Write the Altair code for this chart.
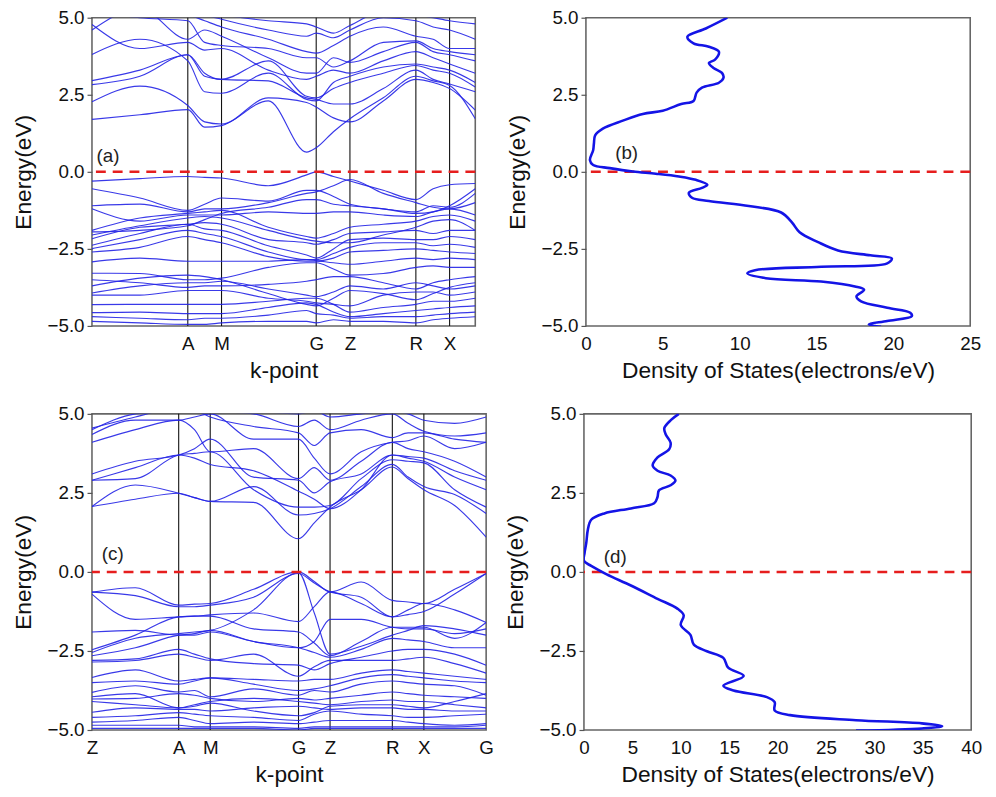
import altair as alt
import pandas as pd

FONT = "Liberation Sans"
BAND_COLOR = "#2424e6"
DOS_COLOR = "#1414e6"
FERMI_COLOR = "#e61e1e"

# ---------------- (a) band structure ----------------
kpath_a_pos = [0.0, 0.25, 0.338, 0.585, 0.673, 0.845, 0.933, 1.0]
kpath_a_lab = ["", "A", "M", "G", "Z", "R", "X", ""]
ksample_a = [0, 0.125, 0.25, 0.294, 0.338, 0.46, 0.56, 0.585, 0.63, 0.673, 0.76, 0.845, 0.89, 0.933, 1.0]
bands_a = [
    # conduction bands
    [1.70, 1.85, 2.02, 1.45, 1.50, 2.30, 0.64, 0.78, 1.30, 1.72, 2.40, 3.10, 2.95, 2.80, 1.72],
    [2.27, 2.78, 2.15, 1.62, 1.55, 2.40, 2.25, 2.10, 1.75, 1.62, 2.30, 3.00, 2.90, 2.70, 2.00],
    [2.83, 3.10, 3.80, 3.10, 3.00, 2.95, 2.40, 2.35, 2.20, 2.20, 2.70, 3.30, 3.00, 2.85, 2.60],
    [2.96, 3.30, 3.80, 3.20, 3.00, 3.60, 2.45, 2.40, 2.70, 2.90, 3.20, 3.45, 3.30, 3.20, 2.75],
    [3.81, 4.30, 3.60, 2.60, 2.55, 3.20, 2.35, 2.30, 2.90, 3.10, 3.40, 3.50, 3.40, 3.30, 2.90],
    [4.78, 4.00, 4.20, 3.95, 4.00, 3.30, 3.00, 3.10, 3.30, 3.20, 3.60, 3.90, 3.70, 3.50, 3.20],
    [4.60, 5.30, 4.30, 4.60, 4.40, 3.70, 3.20, 3.20, 3.70, 3.55, 3.90, 4.20, 3.90, 3.80, 3.60],
    [5.20, 5.00, 4.90, 4.20, 4.10, 4.00, 3.70, 3.70, 3.40, 3.60, 4.20, 4.25, 4.00, 3.90, 3.80],
    [5.50, 5.30, 5.10, 4.90, 4.70, 4.30, 3.90, 3.85, 4.10, 4.40, 4.70, 4.40, 4.30, 4.00, 4.00],
    [5.60, 5.50, 5.30, 5.10, 4.95, 4.60, 4.40, 4.50, 4.35, 4.60, 5.00, 4.90, 4.70, 4.60, 4.30],
    [5.80, 5.70, 5.50, 5.20, 5.10, 4.90, 4.80, 4.70, 4.50, 4.75, 5.20, 5.10, 5.00, 4.90, 4.80],
    # valence bands
    [-0.30, -0.22, -0.15, -0.18, -0.20, -0.45, -0.10, 0.00, -0.15, -0.30, -0.60, -0.90, -0.55, -0.42, -0.38],
    [-0.55, -0.85, -1.25, -1.05, -0.85, -0.95, -0.60, -0.60, -0.80, -1.05, -1.20, -1.30, -1.10, -1.15, -0.70],
    [-1.10, -1.05, -1.30, -1.20, -1.20, -1.00, -0.70, -0.65, -0.45, -0.25, -0.70, -1.00, -1.15, -1.20, -1.00],
    [-1.20, -1.60, -1.40, -1.40, -1.40, -1.30, -1.35, -1.35, -1.30, -1.30, -1.40, -1.45, -1.30, -1.20, -1.40],
    [-1.90, -1.50, -1.35, -1.30, -1.25, -1.80, -2.10, -2.15, -2.00, -1.80, -1.70, -1.60, -1.45, -1.40, -1.60],
    [-2.17, -1.80, -1.70, -1.65, -1.70, -2.20, -2.30, -2.35, -2.20, -2.00, -1.95, -1.90, -2.00, -1.90, -1.90],
    [-2.38, -2.00, -1.70, -1.85, -1.90, -2.40, -2.70, -2.80, -2.50, -2.20, -2.15, -2.20, -2.20, -2.10, -2.20],
    [-2.49, -2.20, -1.90, -2.00, -2.10, -2.60, -2.85, -2.85, -2.65, -2.45, -2.30, -2.30, -2.40, -2.35, -2.45],
    [-2.60, -2.45, -2.10, -2.20, -2.30, -2.75, -2.90, -2.90, -2.80, -2.60, -2.55, -2.50, -2.55, -2.60, -2.65],
    [-2.92, -2.80, -2.90, -2.90, -2.90, -2.90, -2.85, -2.88, -2.95, -3.00, -2.90, -2.80, -2.85, -2.80, -2.85],
    [-3.29, -3.30, -3.50, -3.50, -3.45, -3.10, -2.95, -2.95, -3.15, -3.35, -3.30, -3.10, -3.05, -3.10, -3.10],
    [-3.50, -3.60, -3.75, -3.70, -3.70, -3.65, -3.55, -3.50, -3.40, -3.40, -3.60, -3.80, -3.60, -3.50, -3.40],
    [-3.93, -3.70, -3.60, -3.60, -3.55, -3.80, -4.00, -4.05, -3.90, -3.70, -3.80, -3.60, -3.70, -3.80, -3.70],
    [-4.00, -4.00, -3.85, -3.85, -3.85, -4.10, -4.20, -4.25, -4.30, -4.35, -4.00, -3.90, -3.90, -4.00, -3.90],
    [-4.31, -4.30, -4.30, -4.30, -4.30, -4.20, -4.10, -4.10, -4.30, -4.55, -4.40, -4.30, -4.20, -4.20, -4.10],
    [-4.57, -4.55, -4.60, -4.60, -4.60, -4.40, -4.25, -4.30, -4.55, -4.70, -4.60, -4.50, -4.45, -4.40, -4.35],
    [-4.70, -4.75, -4.80, -4.75, -4.75, -4.65, -4.50, -4.60, -4.65, -4.75, -4.70, -4.70, -4.65, -4.60, -4.55],
    [-4.85, -4.90, -4.95, -4.95, -4.90, -4.85, -4.85, -4.90, -4.80, -4.85, -4.85, -4.90, -4.80, -4.75, -4.70],
    [-2.05, -1.75, -1.50, -1.45, -1.50, -1.90, -2.20, -2.25, -2.30, -2.30, -2.05, -1.80, -1.60, -1.55, -1.90],
    [-1.95, -1.90, -1.75, -1.55, -1.35, -1.15, -0.90, -0.90, -1.05, -1.10, -1.20, -1.35, -1.30, -1.10, -0.55],
    [-3.70, -3.45, -3.35, -3.40, -3.50, -3.95, -4.30, -4.35, -4.10, -3.85, -3.95, -4.15, -3.95, -3.75, -3.60],
]

# ---------------- (c) band structure ----------------
kpath_c_pos = [0.0, 0.22, 0.30, 0.524, 0.604, 0.762, 0.842, 1.0]
kpath_c_lab = ["Z", "A", "M", "G", "Z", "R", "X", "G"]
ksample_c = [0, 0.11, 0.22, 0.26, 0.30, 0.41, 0.524, 0.564, 0.604, 0.683, 0.762, 0.802, 0.842, 0.92, 1.0]
bands_c = [
    # conduction bands
    [2.07, 2.30, 2.49, 2.35, 2.23, 2.20, 1.05, 1.55, 2.05, 2.60, 3.32, 2.95, 2.60, 2.10, 1.10],
    [2.07, 2.75, 2.49, 2.35, 2.23, 2.70, 1.80, 1.85, 2.00, 2.70, 3.40, 3.00, 2.70, 2.45, 1.85],
    [2.90, 2.95, 3.70, 3.75, 3.80, 2.60, 2.05, 2.05, 2.10, 2.95, 3.55, 3.50, 3.45, 2.60, 2.05],
    [2.90, 3.30, 3.70, 3.60, 3.40, 3.20, 2.55, 2.30, 2.00, 2.60, 3.70, 3.60, 3.50, 3.00, 2.60],
    [3.10, 3.50, 3.70, 3.90, 4.20, 3.00, 2.90, 2.50, 2.85, 3.10, 3.70, 3.65, 3.60, 3.20, 2.90],
    [4.10, 4.50, 4.80, 4.50, 3.80, 3.90, 2.95, 3.30, 2.90, 3.50, 4.10, 3.90, 3.80, 3.50, 3.00],
    [4.35, 4.80, 4.80, 4.90, 5.00, 4.20, 4.20, 3.60, 3.10, 3.80, 4.10, 4.15, 4.30, 3.90, 4.10],
    [4.50, 5.00, 5.10, 5.10, 4.90, 4.60, 4.40, 4.00, 4.40, 4.50, 4.25, 4.40, 4.40, 4.20, 4.10],
    [4.55, 4.90, 5.20, 5.20, 5.10, 5.00, 4.60, 4.80, 4.50, 4.80, 5.00, 4.70, 4.45, 4.30, 4.40],
    [5.20, 5.30, 5.40, 5.30, 5.20, 5.10, 5.00, 5.10, 4.90, 5.00, 5.10, 5.00, 4.80, 4.70, 4.90],
    # valence bands
    [-0.64, -0.50, -1.05, -1.02, -1.00, -0.55, 0.00, -0.30, -0.63, -0.32, -0.90, -0.95, -1.00, -0.55, -0.05],
    [-0.64, -0.75, -1.10, -1.10, -1.05, -0.80, -0.05, -0.35, -0.63, -0.80, -1.42, -1.35, -1.25, -0.70, -0.05],
    [-0.70, -1.50, -1.42, -1.40, -1.36, -1.30, -1.57, -1.10, -0.63, -1.00, -1.42, -1.20, -1.00, -1.20, -1.60],
    [-2.46, -2.00, -1.42, -1.40, -1.40, -1.80, -1.90, -2.25, -2.65, -2.20, -1.75, -1.75, -1.75, -2.10, -1.60],
    [-2.55, -2.10, -1.95, -1.90, -1.85, -1.20, -0.02, -1.30, -2.60, -2.35, -2.00, -1.85, -1.70, -1.80, -2.00],
    [-2.65, -2.40, -2.00, -1.95, -1.85, -2.20, -2.40, -2.55, -2.70, -2.45, -2.10, -2.15, -2.20, -2.40, -2.40],
    [-2.80, -2.75, -2.45, -2.60, -2.75, -2.90, -2.95, -3.10, -2.90, -2.70, -2.50, -2.45, -2.45, -2.60, -2.95],
    [-2.85, -2.80, -2.60, -2.70, -2.80, -2.60, -3.30, -3.00, -2.80, -2.80, -2.80, -2.75, -2.70, -2.90, -3.20],
    [-3.34, -3.10, -3.45, -3.40, -3.35, -3.40, -3.45, -3.40, -3.40, -3.20, -3.10, -3.15, -3.20, -3.30, -3.40],
    [-3.50, -3.45, -3.55, -3.45, -3.35, -3.55, -3.75, -3.70, -3.60, -3.35, -3.25, -3.30, -3.35, -3.45, -3.50],
    [-3.81, -3.60, -3.80, -3.75, -3.95, -3.70, -3.90, -3.75, -3.80, -3.55, -3.45, -3.50, -3.55, -3.60, -3.90],
    [-4.02, -4.00, -3.85, -3.90, -4.00, -4.10, -4.00, -4.05, -4.00, -3.90, -3.80, -3.85, -3.90, -3.95, -4.00],
    [-4.10, -4.20, -4.30, -4.20, -4.10, -4.00, -4.10, -4.15, -4.20, -4.10, -4.05, -4.10, -4.10, -4.20, -4.30],
    [-4.44, -4.30, -4.35, -4.35, -4.40, -4.30, -4.25, -4.30, -4.35, -4.30, -4.30, -4.35, -4.35, -4.40, -4.40],
    [-4.60, -4.55, -4.45, -4.50, -4.55, -4.60, -4.70, -4.50, -4.40, -4.50, -4.55, -4.60, -4.60, -4.55, -4.50],
    [-4.75, -4.70, -4.60, -4.70, -4.80, -4.75, -4.80, -4.75, -4.70, -4.70, -4.70, -4.75, -4.80, -4.85, -4.80],
    [-4.85, -4.85, -4.85, -4.90, -4.90, -4.90, -4.95, -4.90, -4.90, -4.90, -4.90, -4.90, -4.90, -4.90, -4.85],
    [-4.95, -4.95, -4.95, -4.95, -4.95, -4.95, -5.00, -4.95, -4.95, -4.95, -4.95, -4.95, -4.95, -4.95, -4.95],
    [-1.90, -1.85, -2.00, -2.00, -1.90, -2.20, -2.40, -2.20, -1.50, -1.50, -1.75, -1.80, -1.80, -1.95, -1.80],
    [-3.95, -3.85, -4.30, -4.25, -4.15, -4.40, -4.55, -4.45, -4.25, -4.20, -4.20, -4.25, -4.30, -4.10, -3.85],
]

# ---------------- (b) density of states ----------------
dos_b_energy = [5.0, 4.65, 4.38, 4.17, 4.06, 3.90, 3.64, 3.53, 3.37, 3.21, 3.05, 2.89, 2.73, 2.57,
                2.30, 2.20, 1.98, 1.88, 1.66, 1.40, 1.18, 0.92, 0.70, 0.38, 0.22, 0.12, 0.01, -0.06,
                -0.15, -0.26, -0.42, -0.52, -0.68, -0.84, -0.95, -1.11, -1.32, -1.64, -1.96, -2.28,
                -2.55, -2.71, -2.81, -2.97, -3.08, -3.19, -3.29, -3.45, -3.56, -3.72, -3.83, -4.04,
                -4.20, -4.41, -4.57, -4.68, -4.84, -4.95, -5.03]
dos_b_value = [9.2, 7.8, 6.6, 7.0, 8.0, 8.65, 8.4, 8.0, 8.3, 8.85, 8.95, 8.65, 7.55, 7.2,
               7.0, 6.2, 5.0, 3.7, 2.4, 1.1, 0.6, 0.52, 0.47, 0.26, 0.47, 1.55, 3.05, 4.55,
               6.05, 7.15, 7.9, 7.55, 6.7, 6.9, 8.0, 10.6, 12.7, 13.4, 13.9, 15.1,
               16.4, 18.5, 19.9, 19.6, 15.3, 11.0, 10.5, 11.7, 15.3, 17.5, 18.1, 17.6,
               17.9, 19.6, 21.1, 21.2, 19.6, 18.4, 19.2]

# ---------------- (d) density of states ----------------
dos_d_energy = [5.0, 4.81, 4.55, 4.35, 4.09, 3.88, 3.62, 3.36, 3.20, 3.05, 2.89, 2.74, 2.58, 2.37,
                2.17, 2.01, 1.85, 1.65, 1.33, 0.92, 0.61, 0.35, 0.19, -0.07, -0.43, -0.85, -1.16,
                -1.37, -1.68, -1.99, -2.30, -2.51, -2.72, -3.03, -3.29, -3.60, -3.75, -3.96, -4.12,
                -4.38, -4.53, -4.69, -4.79, -4.88, -4.95, -5.02]
dos_d_value = [9.8, 9.0, 8.3, 8.45, 8.95, 8.8, 7.6, 7.1, 7.6, 8.95, 9.45, 8.95, 7.75, 7.6,
               7.25, 4.85, 2.1, 0.75, 0.4, 0.24, 0.07, 0.0, 0.75, 2.3, 4.85, 7.6, 9.65,
               10.3, 10.0, 11.0, 11.35, 12.7, 14.4, 14.9, 16.5, 14.4, 15.45, 18.9, 19.7,
               19.7, 21.3, 28.1, 34.9, 37.0, 34.9, 28.1]

# panel tags
tag_text = ["(a)", "(b)", "(c)", "(d)"]
tag_x = [0.012, 1.9, 0.025, 2.05]
tag_y = [0.50, 0.62, 0.58, 0.48]

E_DOMAIN = [-5, 5]
E_TICKS = [-5, -2.5, 0, 2.5, 5]


def y_enc():
    return alt.Y(
        "E:Q",
        scale=alt.Scale(domain=E_DOMAIN, nice=False, zero=False),
        axis=alt.Axis(values=E_TICKS, format=".1f", title="Energy(eV)",
                      tickSize=5, labelPadding=3, titlePadding=12),
    )


def label_expr(pos, labs):
    parts = "".join(f"abs(datum.value - {p}) < 0.002 ? '{l}' : " for p, l in zip(pos, labs))
    return parts + "''"


def fermi_layer():
    return alt.Chart(pd.DataFrame({"E": [0.0]})).mark_rule(
        color=FERMI_COLOR, strokeWidth=2.5, strokeDash=[10, 7]
    ).encode(y=alt.Y("E:Q"))


def band_panel(ksample, bands, kpos, klabs, idx, w, h):
    rows = [{"k": k, "E": e, "band": i}
            for i, b in enumerate(bands) for k, e in zip(ksample, b)]
    df = pd.DataFrame(rows)
    x = alt.X("k:Q", scale=alt.Scale(domain=[0, 1], nice=False, zero=False),
              axis=alt.Axis(values=kpos, labelExpr=label_expr(kpos, klabs), title="k-point",
                            ticks=False, labelPadding=9, titlePadding=6,
                            labelFlush=False, labelOverlap=False, labelBound=False))
    vlines = alt.Chart(pd.DataFrame({"k": kpos[1:-1]})).mark_rule(
        color="#111111", strokeWidth=1.1).encode(x=x)
    lines = alt.Chart(df).mark_line(
        interpolate="monotone", clip=True, color=BAND_COLOR, strokeWidth=1.15, opacity=0.9
    ).encode(x=x, y=y_enc(), detail="band:N")
    tag = alt.Chart(pd.DataFrame({"k": [tag_x[idx]], "E": [tag_y[idx]], "t": [tag_text[idx]]})).mark_text(
        align="left", baseline="middle", font=FONT, fontSize=19, color="#222222"
    ).encode(x="k:Q", y="E:Q", text="t:N")
    return alt.layer(vlines, lines, fermi_layer(), tag).properties(width=w, height=h)


def dos_panel(energy, value, xmax, idx, w, h):
    df = pd.DataFrame({"E": energy, "D": value, "i": list(range(len(energy)))})
    x = alt.X("D:Q", scale=alt.Scale(domain=[0, xmax], nice=False, zero=False),
              axis=alt.Axis(values=list(range(0, xmax + 1, 5)), title="Density of States(electrons/eV)",
                            ticks=False, labelPadding=9, titlePadding=6,
                            labelFlush=False, labelOverlap=False))
    line = alt.Chart(df).mark_line(
        interpolate="catmull-rom", clip=True, color=DOS_COLOR, strokeWidth=2.6
    ).encode(x=x, y=y_enc(), order="i:Q")
    tag = alt.Chart(pd.DataFrame({"D": [tag_x[idx]], "E": [tag_y[idx]], "t": [tag_text[idx]]})).mark_text(
        align="left", baseline="middle", font=FONT, fontSize=19, color="#222222"
    ).encode(x="D:Q", y="E:Q", text="t:N")
    return alt.layer(fermi_layer(), line, tag).properties(width=w, height=h)


pa = band_panel(ksample_a, bands_a, kpath_a_pos, kpath_a_lab, 0, 388, 312)
pb = dos_panel(dos_b_energy, dos_b_value, 25, 1, 389, 312)
pc = band_panel(ksample_c, bands_c, kpath_c_pos, kpath_c_lab, 2, 399, 320)
pd_ = dos_panel(dos_d_energy, dos_d_value, 40, 3, 392, 320)

row1 = alt.hconcat(pa, pb, spacing=27)
row2 = alt.hconcat(pc, pd_, spacing=8)

chart = alt.vconcat(row1, row2, spacing=21).properties(
    padding={"left": 3, "top": -5, "right": 5, "bottom": 5}
).configure_axis(
    labelFont=FONT, titleFont=FONT, labelFontSize=19, titleFontSize=23,
    titleFontWeight="normal", labelColor="#111111", titleColor="#111111",
    grid=False, domain=False, tickColor="#555555", tickWidth=1.2,
).configure_view(
    stroke="#666666", strokeWidth=1.6
).configure_concat(spacing=20)

chart.save("out.html", embed_options={"renderer": "svg", "actions": False})
